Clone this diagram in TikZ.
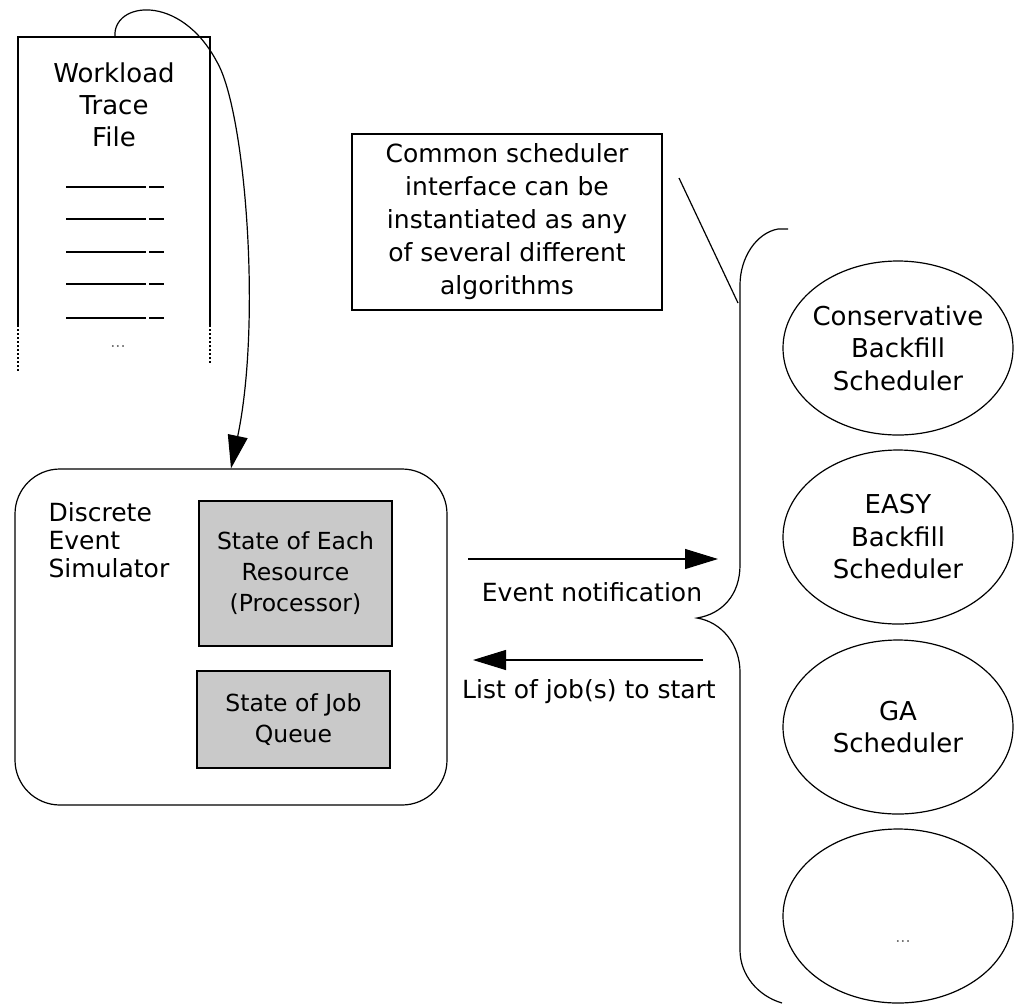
\documentclass[tikz,border=0pt]{standalone}
\usepackage{fontspec}
\setmainfont{DejaVu Sans}
\usetikzlibrary{arrows.meta}
\usetikzlibrary{shapes.geometric}

\tikzset{
  txt/.style={font=\fontsize{25}{33}\selectfont, align=center, inner sep=0pt},
  statebox/.style={draw, fill=black!21, inner sep=0pt, font=\fontsize{23.5}{31}\selectfont, align=center},
  sched/.style={draw, ellipse, inner sep=-8pt, minimum width=230pt, minimum height=174pt, font=\fontsize{26}{32.5}\selectfont, align=center},
  tip/.style={-{Triangle[length=33pt,width=20pt]}},
  dots/.style={font=\fontsize{16}{16}\selectfont, text=black!55, inner sep=0pt}
}

\begin{document}
\begin{tikzpicture}[x=1pt,y=-1pt,line width=1.2pt]
\useasboundingbox (0,0) rectangle (1015,1005);

% trace file
\draw (18,325) -- (18,37) -- (210,37) -- (210,325);
\draw[dash pattern=on 1.5pt off 2.5pt] (18,325) -- (18,373);
\draw[dash pattern=on 1.5pt off 2.5pt] (210,325) -- (210,363);
\node[txt, font=\fontsize{26}{32}\selectfont] (trace) at (114,105) {Workload\\Trace\\File};
\foreach \y in {187,219,252,284,318}{
  \draw (66,\y) -- (146,\y);
  \draw (149,\y) -- (164,\y);
}
\node[dots] (tracedots) at (118,346) {...};
\coordinate (filetop) at (115,37);

% simulator
\node[draw, rounded corners=45pt, minimum width=432pt, minimum height=336pt, inner sep=0pt] (sim) at (231,637) {};
\node[txt, align=left, anchor=west, font=\fontsize{25}{28}\selectfont] (simname) at (48,540) {Discrete\\Event\\Simulator};
\node[statebox, minimum width=193pt, minimum height=145pt] (resource) at (295.5,573.5) {State of Each\\Resource\\(Processor)};
\node[statebox, minimum width=193pt, minimum height=97pt] (queue) at (293.5,719.5) {State of Job\\Queue};

\draw[tip] (filetop) .. controls (112,2) and (180,-8) .. (217,62)
  .. controls (245,110) and (262,320) .. (sim.north);

% note
\node[draw, txt, minimum width=310pt, minimum height=176pt] (note) at (507,222)
  {Common scheduler\\interface can be\\instantiated as any\\of several different\\algorithms};
\coordinate (pointa) at (679,178);
\coordinate (pointb) at (738,303);
\draw (pointa) -- (pointb);

% messages
\coordinate (evfrom) at (468,559);
\coordinate (evto) at (718,559);
\coordinate (jobfrom) at (703,660);
\coordinate (jobto) at (473,660);
\draw[tip] (evfrom) -- (evto);
\draw[tip] (jobfrom) -- (jobto);
\node[txt] (evlbl) at (592,592) {Event notification};
\node[txt] (joblbl) at (589,692) {List of job(s) to start};

% brace
\draw (788,229) -- (778,229) .. controls (756,233) and (740,258) .. (740,285)
  -- (740,565) .. controls (740,595) and (722,614) .. (697,618)
  .. controls (722,622) and (740,645) .. (740,672)
  -- (740,950) .. controls (740,975) and (758,996) .. (782,1003);

% schedulers
\node[sched] (cons) at (898,348) {Conservative\\Backfill\\Scheduler};
\node[sched] (easy) at (898,537) {EASY\\Backfill\\Scheduler};
\node[sched] (ga) at (898,727) {GA\\Scheduler};
\node[sched] (more) at (898,916) {};
\node[dots] (moredots) at (903,941) {...};

\end{tikzpicture}
\end{document}
